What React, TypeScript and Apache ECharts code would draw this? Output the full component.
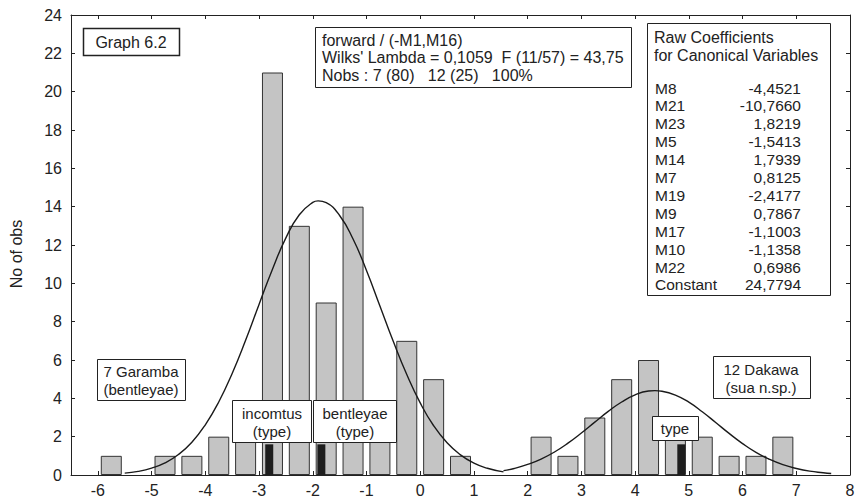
import React, { useEffect, useRef } from "react";
import * as echarts from "echarts";

// Histogram bins (bin width 0.5) and counts
const binCenters = [-5.75, -4.75, -4.25, -3.75, -3.25, -2.75, -2.25, -1.75, -1.25, -0.75, -0.25, 0.25, 0.75, 2.25, 2.75, 3.25, 3.75, 4.25, 4.75, 5.25, 5.75, 6.25, 6.75];
const binCounts = [1, 1, 1, 2, 2, 21, 13, 9, 14, 3, 7, 5, 1, 2, 1, 3, 5, 6, 2, 2, 1, 1, 2];

// Type specimen markers (dark bars)
const typeMarkX = [-2.81, -1.84, 4.86];
const typeMarkY = [1.6, 1.6, 1.6];

// Fitted normal curves
const fitLeftX = [-5.5, -5.25, -5.0, -4.75, -4.5, -4.25, -4.0, -3.75, -3.5, -3.25, -3.0, -2.75, -2.5, -2.25, -2.0, -1.9, -1.75, -1.5, -1.25, -1.0, -0.75, -0.5, -0.25, 0.0, 0.25, 0.5, 0.75, 1.0, 1.25, 1.55];
const fitLeftY = [0.1, 0.19, 0.36, 0.63, 1.07, 1.71, 2.62, 3.81, 5.3, 7.03, 8.9, 10.74, 12.37, 13.58, 14.22, 14.3, 14.21, 13.54, 12.31, 10.67, 8.82, 6.96, 5.24, 3.76, 2.57, 1.68, 1.05, 0.62, 0.35, 0.16];
const fitRightX = [1.55, 1.75, 2.0, 2.25, 2.5, 2.75, 3.0, 3.25, 3.5, 3.75, 4.0, 4.25, 4.37, 4.5, 4.75, 5.0, 5.25, 5.5, 5.75, 6.0, 6.25, 6.5, 6.75, 7.0, 7.25, 7.5, 7.65];
const fitRightY = [0.23, 0.34, 0.55, 0.83, 1.2, 1.66, 2.19, 2.76, 3.32, 3.81, 4.18, 4.38, 4.4, 4.37, 4.17, 3.8, 3.3, 2.74, 2.17, 1.64, 1.18, 0.82, 0.54, 0.34, 0.2, 0.12, 0.08];

const xTicks = [-6, -5, -4, -3, -2, -1, 0, 1, 2, 3, 4, 5, 6, 7, 8];

const statsLines = [
  "forward / (-M1,M16)",
  "Wilks' Lambda = 0,1059  F (11/57) = 43,75",
  "Nobs : 7 (80)   12 (25)   100%",
];
const coefTitle = ["Raw Coefficients", "for Canonical Variables"];
const coefNames = ["M8", "M21", "M23", "M5", "M14", "M7", "M19", "M9", "M17", "M10", "M22", "Constant"];
const coefValues = ["-4,4521", "-10,7660", "1,8219", "-1,5413", "1,7939", "0,8125", "-2,4177", "0,7867", "-1,1003", "-1,1358", "0,6986", "24,7794"];

const FONT = '"Liberation Sans", Arial, sans-serif';
const INK = "#222";

function box(x: number, y: number, w: number, h: number, lw = 1) {
  return {
    type: "rect",
    z: 100,
    shape: { x: x + 0.5, y: y + 0.5, width: w, height: h },
    style: { fill: "#fff", stroke: "#222", lineWidth: lw },
  };
}
function txt(text: string, x: number, y: number, size: number, align = "left") {
  return {
    type: "text",
    z: 101,
    x,
    y,
    style: {
      text,
      fill: INK,
      font: `${size}px ${FONT}`,
      align,
      verticalAlign: "middle",
    },
  };
}

export default function App() {
  const ref = useRef<HTMLDivElement>(null);
  useEffect(() => {
    if (!ref.current) return;
    const chart = echarts.init(ref.current, null, { renderer: "svg" });

    const elements: any[] = [];
    // Graph 6.2
    elements.push(box(83, 28, 96, 27, 1.5));
    elements.push(txt("Graph 6.2", 131, 42, 16, "center"));
    // Stats box
    elements.push(box(315, 27, 316, 60));
    statsLines.forEach((s, i) => elements.push(txt(s, 322, 40 + i * 17.5, 16)));
    // Coefficient box
    elements.push(box(647, 23, 183, 272));
    coefTitle.forEach((s, i) => elements.push(txt(s, 654, 37 + i * 18, 16)));
    coefNames.forEach((n, i) => {
      elements.push(txt(n, 655, 88 + i * 17.9, 15.5));
      elements.push(txt(coefValues[i], 801, 88 + i * 17.9, 15.5, "right"));
    });
    // Group annotations
    elements.push(box(97, 359, 88, 41));
    elements.push(txt("7 Garamba", 141, 371, 15, "center"));
    elements.push(txt("(bentleyae)", 141, 389, 15, "center"));
    elements.push(box(232, 400, 79, 42));
    elements.push(txt("incomtus", 272, 413, 15, "center"));
    elements.push(txt("(type)", 272, 431, 15, "center"));
    elements.push(box(313, 400, 83, 42));
    elements.push(txt("bentleyae", 355, 413, 15, "center"));
    elements.push(txt("(type)", 355, 431, 15, "center"));
    elements.push(box(713, 356, 97, 42));
    elements.push(txt("12 Dakawa", 761, 369, 15, "center"));
    elements.push(txt("(sua n.sp.)", 761, 387, 15, "center"));
    elements.push(box(652, 416, 46, 24));
    elements.push(txt("type", 675, 428, 15, "center"));

    const axisLine = { show: true, onZero: false, lineStyle: { color: "#222", width: 1 } };

    chart.setOption({
      animation: false,
      backgroundColor: "#fff",
      grid: { left: 71, right: 12, top: 15, bottom: 26, show: false },
      xAxis: [
        {
          type: "value",
          min: -6.5,
          max: 8,
          axisLine,
          axisTick: { show: true, inside: true, length: 4, customValues: xTicks, lineStyle: { color: "#222" } },
          axisLabel: { customValues: xTicks, fontSize: 16, fontFamily: FONT, color: INK, margin: 7 },
          splitLine: { show: false },
        },
        {
          type: "value",
          position: "top",
          min: -6.5,
          max: 8,
          axisLine,
          axisTick: { show: true, inside: true, length: 4, customValues: xTicks, lineStyle: { color: "#222" } },
          axisLabel: { show: false },
          splitLine: { show: false },
        },
      ],
      yAxis: [
        {
          type: "value",
          min: 0,
          max: 24,
          interval: 2,
          name: "No of obs",
          nameLocation: "middle",
          nameGap: 47,
          nameTextStyle: { fontSize: 16, fontFamily: FONT, color: INK, padding: [0, 18, 0, 0] },
          axisLine,
          axisTick: { show: true, inside: true, length: 4, lineStyle: { color: "#222" } },
          axisLabel: { fontSize: 16, fontFamily: FONT, color: INK, margin: 9 },
          splitLine: { show: false },
        },
        {
          type: "value",
          position: "right",
          min: 0,
          max: 24,
          interval: 2,
          axisLine,
          axisTick: { show: true, inside: true, length: 4, lineStyle: { color: "#222" } },
          axisLabel: { show: false },
          splitLine: { show: false },
        },
      ],
      series: [
        {
          type: "bar",
          data: binCenters.map((c, i) => [c, binCounts[i]]),
          barWidth: 21,
          itemStyle: { color: "#c4c4c4", borderColor: "#333", borderWidth: 1 },
          z: 2,
        },
        {
          type: "custom",
          data: typeMarkX.map((x, i) => [x, typeMarkY[i]]),
          z: 3,
          renderItem: (params: any, api: any) => {
            const top = api.coord([api.value(0), api.value(1)]);
            const base = api.coord([api.value(0), 0]);
            return {
              type: "rect",
              shape: { x: top[0] - 4, y: top[1], width: 8, height: base[1] - top[1] },
              style: { fill: "#1e1e1e" },
            };
          },
        },
        {
          type: "line",
          data: fitLeftX.map((x, i) => [x, fitLeftY[i]]),
          smooth: true,
          showSymbol: false,
          symbol: "none",
          lineStyle: { color: "#1a1a1a", width: 1.4 },
          z: 4,
        },
        {
          type: "line",
          data: fitRightX.map((x, i) => [x, fitRightY[i]]),
          smooth: true,
          showSymbol: false,
          symbol: "none",
          lineStyle: { color: "#1a1a1a", width: 1.4 },
          z: 4,
        },
      ],
      graphic: { elements },
    });
    return () => chart.dispose();
  }, []);
  return (
    <div
      ref={ref}
      style={{ position: "absolute", left: 0, top: 0, width: 862, height: 501 }}
    />
  );
}
